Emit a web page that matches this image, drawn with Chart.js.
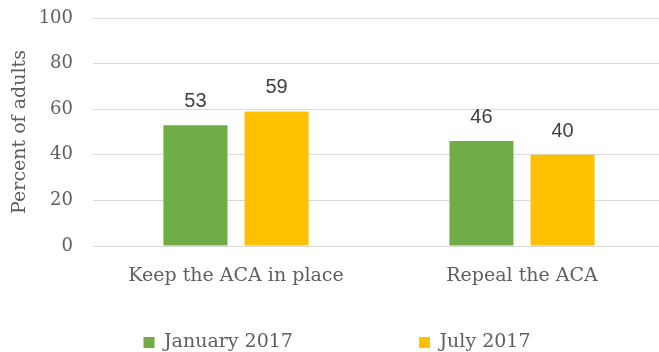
<!DOCTYPE html>
<html><head><meta charset="utf-8">
<script src="https://cdn.jsdelivr.net/npm/chart.js@4"></script>
<style>html,body{margin:0;padding:0;overflow:hidden;background:#fff}#w{width:665px;height:352px;position:relative}</style>
</head><body><div id="w"><canvas id="c"></canvas></div>
<script>
const categories = ["Keep the ACA in place", "Repeal the ACA"];
const seriesNames = ["January 2017", "July 2017"];
const jan2017 = [53, 46];
const jul2017 = [59, 40];
const yTicks = [0, 20, 40, 60, 80, 100];

const FONT = "'DejaVu Serif'";
const TXT = '#5f5f5f';
const LEG_PAD = 126;

const labelPlugin = {
  id: 'vals',
  afterDatasetsDraw(chart) {
    const ctx = chart.ctx;
    ctx.save();
    ctx.font = "20px 'Liberation Sans'";
    ctx.fillStyle = '#404040';
    ctx.textAlign = 'center';
    ctx.textBaseline = 'alphabetic';
    chart.data.datasets.forEach((ds, i) => {
      chart.getDatasetMeta(i).data.forEach((bar, j) => {
        ctx.fillText(String(ds.data[j]), bar.x, bar.y - 18);
      });
    });
    ctx.restore();
  }
};

// keep the wide horizontal legend spacing without the matching vertical gap
const legendFix = {
  id: 'legendFix',
  beforeUpdate(chart) {
    const L = chart.legend;
    if (!L || L._fixed) return;
    L._fixed = true;
    const origFit = L.fit;
    L.fit = function () { origFit.call(this); this.height = 30; };
    const origDraw = L._draw;
    L._draw = function () {
      const c = this.ctx; c.save();
      c.translate(0, -(this.options.labels.padding) + 11);
      origDraw.call(this); c.restore();
    };
  }
};

new Chart(document.getElementById('c'), {
  type: 'bar',
  data: {
    labels: categories,
    datasets: [
      { label: seriesNames[0], data: jan2017, backgroundColor: '#70AD47' },
      { label: seriesNames[1], data: jul2017, backgroundColor: '#FFC000' }
    ]
  },
  options: {
    responsive: true, maintainAspectRatio: false, animation: false,
    devicePixelRatio: 1,
    layout: { padding: { left: 9, top: 18, right: 0, bottom: 0 } },
    categoryPercentage: 0.567, barPercentage: 0.79,
    plugins: {
      legend: {
        position: 'bottom',
        labels: { font: { family: FONT, size: 19 }, color: TXT, boxWidth: 11, boxHeight: 11, padding: LEG_PAD }
      },
      tooltip: { enabled: false }
    },
    scales: {
      y: {
        min: 0, max: 100,
        afterBuildTicks: s => { s.ticks = yTicks.map(v => ({ value: v })); },
        afterFit: s => { s.width = 84; },
        ticks: { font: { family: FONT, size: 18 }, color: TXT, padding: 0 },
        grid: { color: '#d9d9d9', lineWidth: 1, drawTicks: true, tickLength: 20, tickColor: 'rgba(0,0,0,0)' },
        border: { display: false },
        title: { display: true, text: 'Percent of adults', font: { family: FONT, size: 19 }, color: TXT, padding: 0 }
      },
      x: {
        afterFit: s => { s.height = 76; },
        ticks: { font: { family: FONT, size: 19 }, color: TXT, padding: 19 },
        grid: { display: false, drawTicks: false },
        border: { display: true, color: '#d9d9d9' }
      }
    }
  },
  plugins: [labelPlugin, legendFix]
});
</script></body></html>
